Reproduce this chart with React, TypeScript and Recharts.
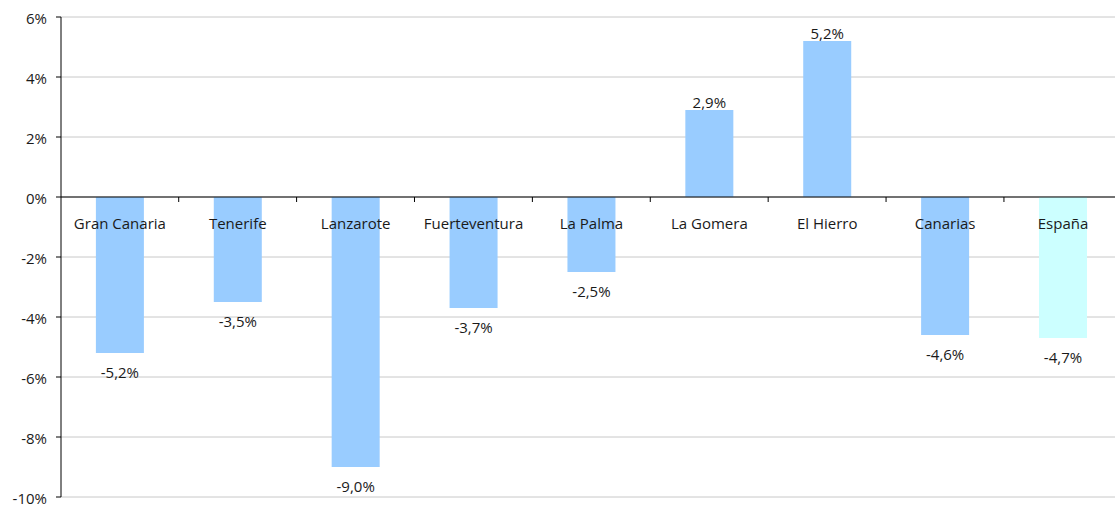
import { BarChart, Bar, XAxis, YAxis, CartesianGrid, ReferenceLine, Cell } from "recharts";

const CATEGORIES = ["Gran Canaria", "Tenerife", "Lanzarote", "Fuerteventura", "La Palma", "La Gomera", "El Hierro", "Canarias", "España"];
const VALUES = [-5.2, -3.5, -9.0, -3.7, -2.5, 2.9, 5.2, -4.6, -4.7];
const Y_TICKS = [-10, -8, -6, -4, -2, 0, 2, 4, 6];
const HIGHLIGHT = "España";

const data = CATEGORIES.map((name, i) => ({ name, value: VALUES[i] }));

const FONT = "'Open Sans', sans-serif";
const TEXT = "#1a1a1a";
const GAP = 0.296; // barCategoryGap as fraction of band

const fmt = (v: number) => v.toFixed(1).replace(".", ",") + "%";

const BarWithLabels = (props: any) => {
  const { x, y, width, height, payload, fill } = props;
  const top = Math.min(y, y + height);
  const bottom = Math.max(y, y + height);
  const positive = payload.value >= 0;
  const zeroY = positive ? bottom : top;
  const cx = x + width / 2;
  const band = width / (1 - 2 * GAP);
  return (
    <g>
      <rect x={x} y={top} width={width} height={bottom - top} fill={fill} />
      <line x1={cx + band / 2} x2={cx + band / 2} y1={zeroY} y2={zeroY + 5} stroke="#000" />
      <text x={cx} y={zeroY + 32} textAnchor="middle" fontSize={15} fontFamily={FONT} fill={TEXT}>
        {payload.name}
      </text>
      <text
        x={cx}
        y={positive ? top - 2 : bottom + 25}
        textAnchor="middle"
        fontSize={15}
        fontFamily={FONT}
        fill={TEXT}
      >
        {fmt(payload.value)}
      </text>
    </g>
  );
};

export default function App() {
  return (
    <div style={{ position: "absolute", left: 0, top: 0, width: 1115, height: 505, overflow: "hidden", background: "#fff" }}>
      <BarChart
        width={1122}
        height={505}
        data={data}
        margin={{ top: 17, right: 0, bottom: 8, left: 0 }}
        barCategoryGap={`${GAP * 100}%`}
      >
        <CartesianGrid vertical={false} stroke="#c8c8c8" />
        <XAxis dataKey="name" hide />
        <YAxis
          width={61}
          domain={[-10, 6]}
          ticks={Y_TICKS}
          interval={0}
          allowDataOverflow
          tickFormatter={(v: number) => `${v}%`}
          axisLine={{ stroke: "#000" }}
          tickLine={{ stroke: "#000" }}
          tickSize={5}
          tickMargin={9}
          tick={{ fontSize: 15, fontFamily: FONT, fill: TEXT, dy: 1.5 }}
        />
        <Bar dataKey="value" shape={BarWithLabels} isAnimationActive={false}>
          {data.map((d) => (
            <Cell key={d.name} fill={d.name === HIGHLIGHT ? "#ccffff" : "#99ccff"} />
          ))}
        </Bar>
        <ReferenceLine y={0} stroke="#000" />
      </BarChart>
    </div>
  );
}
